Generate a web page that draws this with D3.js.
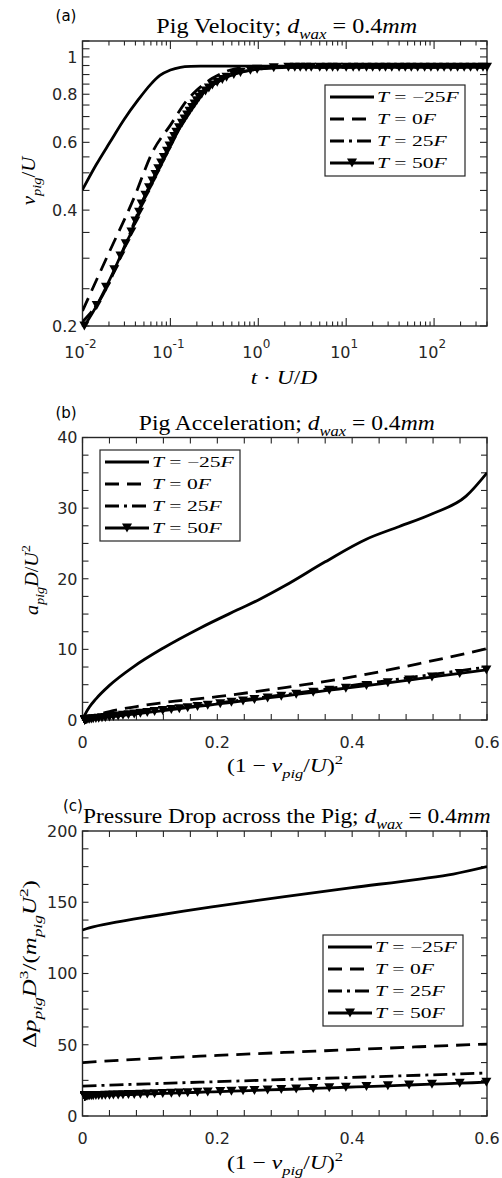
<!DOCTYPE html>
<html><head><meta charset="utf-8">
<script src="https://cdn.jsdelivr.net/npm/d3@7"></script>
<style>body{margin:0;background:#fff}svg{display:block}</style>
</head><body>
<svg id="chart" width="502" height="1178"></svg>
<script>
// ---------------- DATA ----------------
const seriesLabels = ["\u221225", "0", "25", "50"];   // T = ...F

// Panel (a): pig velocity vs t*U/D (log-log)
const tA_m25 = [0.01, 0.0142, 0.0205, 0.03, 0.0427, 0.06, 0.076, 0.1, 0.13, 0.17, 0.22, 0.4, 1, 10, 100, 400];
const vA_m25 = [0.452, 0.523, 0.60, 0.69, 0.772, 0.85, 0.895, 0.925, 0.94, 0.945, 0.946, 0.946, 0.946, 0.946, 0.946, 0.946];
const tA_0 = [0.01, 0.02, 0.0375, 0.064, 0.1, 0.155, 0.2, 0.3, 0.48, 0.7, 1, 400];
const vA_0 = [0.219, 0.31, 0.424, 0.572, 0.665, 0.772, 0.82, 0.88, 0.925, 0.94, 0.945, 0.945];
const tA_25 = [0.01, 0.0155, 0.03, 0.0487, 0.08, 0.12, 0.17, 0.22, 0.3, 0.45, 0.7, 1.0, 1.5, 2.5, 400];
const vA_25 = [0.205, 0.232, 0.32, 0.424, 0.535, 0.645, 0.73, 0.795, 0.845, 0.89, 0.918, 0.93, 0.937, 0.94, 0.94];
// T = 50F sampled points (markers)
const t50 = [0.0105,0.0145,0.0185,0.023,0.027,0.031,0.036,0.040,0.044,0.047,0.052,0.0571,0.0624,0.0677,0.0728,0.0784,0.0842,0.0915,0.0978,0.1044,0.1106,0.1167,0.1253,0.1352,0.1447,0.155,0.165,0.1765,0.1882,0.1998,0.2124,0.227,0.251,0.274,0.3,0.341,0.39,0.435,0.527,0.627,0.813,0.97,1.5,
  2.2,2.6,3,3.5,4,5,6,7,8,10,12,14,17,20,24,28,33,40,47,55,65,78,92,110,130,155,185,220,260,310,360,400];
const v50 = [0.2,0.226,0.252,0.28,0.304,0.327,0.351,0.375,0.395,0.415,0.437,0.457,0.476,0.495,0.512,0.53,0.548,0.569,0.587,0.605,0.621,0.637,0.655,0.673,0.69,0.707,0.723,0.739,0.755,0.77,0.786,0.8,0.816,0.83,0.845,0.859,0.874,0.886,0.9,0.911,0.923,0.929,0.937,
  0.94,0.94,0.94,0.94,0.94,0.94,0.94,0.94,0.94,0.94,0.94,0.94,0.94,0.94,0.94,0.94,0.94,0.94,0.94,0.94,0.94,0.94,0.94,0.94,0.94,0.94,0.94,0.94,0.94,0.94,0.94,0.94];

// Panel (b): acceleration vs (1 - v/U)^2
const xB_m25 = [0, 0.005, 0.01, 0.02, 0.04, 0.075, 0.12, 0.174, 0.23, 0.263, 0.3, 0.36, 0.421, 0.47, 0.519, 0.569, 0.6];
const aB_m25 = [0, 1.0, 1.8, 3.0, 4.9, 7.5, 10.2, 13.0, 15.6, 17.1, 19.0, 22.4, 25.6, 27.4, 29.2, 31.7, 35.0];
const xB_0 = [0, 0.02, 0.04, 0.08, 0.115, 0.2, 0.3, 0.4, 0.5, 0.6];
const aB_0 = [0, 0.7, 1.2, 1.9, 2.4, 3.3, 4.6, 6.1, 8.0, 10.1];
const xB_25 = [0, 0.05, 0.1, 0.2, 0.3, 0.4, 0.5, 0.6];
const aB_25 = [0, 0.6, 1.2, 2.4, 3.6, 4.9, 6.2, 7.5];
const a50 = [7.61,7.09,6.59,6.08,5.66,5.27,4.88,4.51,4.22,3.92,3.63,3.36,3.13,2.90,2.70,2.50,2.31,2.09,1.92,1.75,1.61,1.47,1.33,1.20,1.07,0.95,0.84,0.75,0.66,0.58,0.50,0.44,0.37,0.32,0.26,0.22,0.17,0.14,0.11,0.09,0.06,0.05,0.04,
  0.03,0.03,0.03,0.03,0.03,0.03,0.03,0.03,0.03,0.03,0.03,0.03,0.03,0.03,0.03,0.03,0.03,0.03,0.03,0.03,0.03,0.03,0.03,0.03,0.03,0.03,0.03,0.03,0.03,0.03,0.03,0.03];

// Panel (c): pressure drop vs (1 - v/U)^2
const xC_m25 = [0, 0.01, 0.05, 0.1, 0.15, 0.2, 0.3, 0.4, 0.5, 0.55, 0.6];
const dC_m25 = [130.5, 132, 136, 140, 143.8, 147.3, 154, 160.3, 166.3, 169.8, 175];
const xC_0 = [0, 0.1, 0.2, 0.3, 0.4, 0.5, 0.6];
const dC_0 = [37.5, 40.3, 42.5, 44.6, 46.6, 48.6, 50.5];
const xC_25 = [0, 0.1, 0.2, 0.3, 0.4, 0.5, 0.6];
const dC_25 = [21, 22.6, 24.1, 25.6, 27.1, 28.6, 30.2];
const dp50 = [24.42,23.71,23.02,22.32,21.74,21.2,20.67,20.17,19.76,19.36,18.96,18.59,18.27,17.96,17.68,17.41,17.14,16.86,16.62,16.39,16.19,16.01,15.82,15.62,15.46,15.3,15.16,15.03,14.91,14.8,14.69,14.6,14.51,14.44,14.36,14.3,14.24,14.2,14.15,14.12,14.09,14.08,14.06,
  14.05,14.05,14.05,14.05,14.05,14.05,14.05,14.05,14.05,14.05,14.05,14.05,14.05,14.05,14.05,14.05,14.05,14.05,14.05,14.05,14.05,14.05,14.05,14.05,14.05,14.05,14.05,14.05,14.05,14.05,14.05,14.05];

// tick labels
const yTicksA = [0.2, 0.4, 0.6, 0.8, 1];
const xTicksA = [0.01, 0.1, 1, 10, 100];
const xTickExpA = ["-2", "-1", "0", "1", "2"];
const xTicksBC = [0, 0.2, 0.4, 0.6];
const yTicksB = [0, 10, 20, 30, 40];
const yTicksC = [0, 50, 100, 150, 200];

// ---------------- DRAWING ----------------
const svg = d3.select("#chart");
const SERIF = "'Liberation Serif', 'DejaVu Serif', serif";
const SANS = "'DejaVu Sans', sans-serif";
const AX = "#262626";
const LW = 2.8;
const styles = [null, "14,8", "14,5,3,5", null];

const PA = {l:82.5, r:487, t:41, b:326};
const PB = {l:82.5, r:487, t:437.5, b:720};
const PC = {l:82.5, r:487, t:831, b:1116};

function rich(g, parts, fs, family, anchor){
  const t = g.append("text").attr("font-family", family).attr("font-size", fs)
    .attr("text-anchor", anchor || "middle").attr("fill", "#000");
  let shift = 0;
  parts.forEach(([s, f]) => {
    const ts = t.append("tspan").text(s);
    const sub = f && f.includes("s"), sup = f && f.includes("p");
    const target = sub ? fs*0.3 : sup ? -fs*0.42 : 0;
    ts.attr("dy", target - shift); shift = target;
    if (sub || sup) ts.attr("font-size", fs*0.7);
    if (f && f.includes("i")) ts.attr("font-style", "italic");
  });
  return t;
}
function placeText(parts, fs, family, x, y, rot, targetW, anchor){
  const g = svg.append("g");
  const t = rich(g, parts, fs, family, anchor);
  let s = 1;
  if (targetW) { const w = t.node().getBBox().width; s = targetW / w; }
  g.attr("transform", `translate(${x},${y}) rotate(${rot||0}) scale(${s},1)`);
  return s;
}
function tri(sel, x, y){
  sel.append("path").attr("d", `M${x-5},${y-4.5}L${x+5},${y-4.5}L${x},${y+4.5}Z`).attr("fill", "#000");
}

function frameAndTicks(P, xsc, ysc, xt, yt){
  const g = svg.append("g").attr("stroke", AX).attr("stroke-width", 1.1);
  xt.forEach(d => {
    const x = xsc(d.v);
    g.append("line").attr("x1", x).attr("x2", x).attr("y1", P.b).attr("y2", P.b - d.len);
    g.append("line").attr("x1", x).attr("x2", x).attr("y1", P.t).attr("y2", P.t + d.len);
  });
  yt.forEach(d => {
    const y = ysc(d.v);
    g.append("line").attr("y1", y).attr("y2", y).attr("x1", P.l).attr("x2", P.l + d.len);
    g.append("line").attr("y1", y).attr("y2", y).attr("x1", P.r).attr("x2", P.r - d.len);
  });
  svg.append("rect").attr("x", P.l).attr("y", P.t).attr("width", P.r - P.l).attr("height", P.b - P.t)
    .attr("fill", "none").attr("stroke", AX).attr("stroke-width", 1.4);
}

function drawLines(P, id, xsc, ysc, series){
  svg.append("clipPath").attr("id", id).append("rect")
    .attr("x", P.l).attr("y", P.t).attr("width", P.r - P.l).attr("height", P.b - P.t);
  const g = svg.append("g").attr("clip-path", `url(#${id})`);
  const line = d3.line().x(d => xsc(d[0])).y(d => ysc(d[1])).curve(d3.curveMonotoneX);
  series.forEach((s, i) => {
    g.append("path").attr("d", line(s)).attr("fill", "none").attr("stroke", "#000")
      .attr("stroke-width", LW).attr("stroke-dasharray", styles[i]).attr("stroke-linejoin", "round");
  });
  const mg = svg.append("g");
  const xd = xsc.domain(), yd = ysc.domain();
  series[3].forEach(d => {
    if (d[0] < Math.min(...xd) || d[0] > Math.max(...xd) || d[1] < Math.min(...yd) || d[1] > Math.max(...yd)) return;
    tri(mg, xsc(d[0]), ysc(d[1]));
  });
}

function legend(x, y){
  const w = 140, h = 91;
  svg.append("rect").attr("x", x).attr("y", y).attr("width", w).attr("height", h)
    .attr("fill", "#fff").attr("stroke", AX).attr("stroke-width", 1.2);
  let sc = null;
  seriesLabels.forEach((lab, i) => {
    const cy = y + 12 + i * 22;
    svg.append("line").attr("x1", x + 5).attr("x2", x + 49).attr("y1", cy).attr("y2", cy)
      .attr("stroke", "#000").attr("stroke-width", LW).attr("stroke-dasharray", styles[i]);
    if (i === 3) tri(svg, x + 27, cy);
    const parts = [["T", "i"], [" = " + lab, ""], ["F", "i"]];
    if (sc === null) sc = placeText(parts, 15, SERIF, x + 52, cy + 5, 0, 83, "start");
    else {
      const g = svg.append("g");
      rich(g, parts, 15, SERIF, "start");
      g.attr("transform", `translate(${x + 52},${cy + 5}) scale(${sc},1)`);
    }
  });
}

function title(P, parts, w, label, lx){
  const cx = (P.l + P.r) / 2;
  placeText(parts, 20, SERIF, cx + 2, P.t - 8, 0, w);
  svg.append("text").attr("x", lx).attr("y", P.t - 20).attr("font-family", SANS)
    .attr("font-size", 15).attr("text-anchor", "middle").text(label);
}

// ---------- Panel (a) ----------
{
  const P = PA;
  const x = d3.scaleLog().domain([0.01, 400]).range([P.l, P.r]);
  const y = d3.scaleLog().domain([0.2, 1.1]).range([P.b, P.t]);
  const xt = [];
  for (let k = -2; k <= 2; k++) for (let m = 1; m <= 9; m++) {
    const v = m * Math.pow(10, k);
    if (v <= 400) xt.push({v, len: m === 1 ? 8 : 4.5});
  }
  const yt = d3.range(0.2, 1.1001, 0.05).map(v => ({v, len: 7}));
  frameAndTicks(P, x, y, xt, yt);
  drawLines(P, "clipA", x, y, [
    d3.zip(tA_m25, vA_m25), d3.zip(tA_0, vA_0), d3.zip(tA_25, vA_25), d3.zip(t50, v50)
  ]);
  yTicksA.forEach(v => svg.append("text").attr("x", P.l - 5).attr("y", y(v)).attr("dy", "0.36em")
    .attr("text-anchor", "end").attr("font-family", SANS).attr("font-size", 16).attr("fill", "#262626").text(v));
  xTicksA.forEach((v, i) => {
    const t = svg.append("text").attr("x", x(v) - 2).attr("y", P.b + 32).attr("text-anchor", "middle")
      .attr("font-family", SANS).attr("font-size", 16).attr("fill", "#262626");
    t.append("tspan").text("10");
    t.append("tspan").attr("dy", -10).attr("font-size", 12).text(xTickExpA[i]);
  });
  legend(325, 85);
  title(P, [["Pig Velocity; ", ""], ["d", "i"], ["wax", "is"], [" = 0.4", ""], ["mm", "i"]], 261, "(a)", 66);
  placeText([["t", "i"], [" \u00B7 ", ""], ["U", "i"], ["/", ""], ["D", "i"]], 19, SERIF, 284, 384, 0, 67);
  placeText([["v", "i"], ["pig", "is"], ["/", ""], ["U", "i"]], 19, SERIF, 35, 181, -90, 50);
}

// ---------- Panel (b) ----------
{
  const P = PB;
  const x = d3.scaleLinear().domain([0, 0.6]).range([P.l, P.r]);
  const y = d3.scaleLinear().domain([0, 40]).range([P.b, P.t]);
  const xt = d3.range(0, 0.6001, 0.04).map(v => ({v, len: 6}));
  const yt = d3.range(0, 40.001, 2.5).map(v => ({v, len: 6}));
  frameAndTicks(P, x, y, xt, yt);
  drawLines(P, "clipB", x, y, [
    d3.zip(xB_m25, aB_m25), d3.zip(xB_0, aB_0), d3.zip(xB_25, aB_25),
    v50.map((v, i) => [(1 - v) * (1 - v), a50[i]]).sort((p, q) => p[0] - q[0])
  ]);
  yTicksB.forEach(v => svg.append("text").attr("x", P.l - 5).attr("y", y(v)).attr("dy", "0.36em")
    .attr("text-anchor", "end").attr("font-family", SANS).attr("font-size", 16).attr("fill", "#262626").text(v));
  xTicksBC.forEach(v => svg.append("text").attr("x", x(v)).attr("y", P.b + 28).attr("text-anchor", "middle")
    .attr("font-family", SANS).attr("font-size", 16).attr("fill", "#262626").text(v));
  legend(100, 450);
  title(P, [["Pig Acceleration; ", ""], ["d", "i"], ["wax", "is"], [" = 0.4", ""], ["mm", "i"]], 296, "(b)", 66);
  placeText([["(1 \u2212 ", ""], ["v", "i"], ["pig", "is"], ["/", ""], ["U", "i"], [")", ""], ["2", "p"]], 19, SERIF, 285, 772, 0, 116);
  placeText([["a", "i"], ["pig", "is"], ["D", "i"], ["/", ""], ["U", "i"], ["2", "p"]], 19, SERIF, 38, 580, -90, 70);
}

// ---------- Panel (c) ----------
{
  const P = PC;
  const x = d3.scaleLinear().domain([0, 0.6]).range([P.l, P.r]);
  const y = d3.scaleLinear().domain([0, 200]).range([P.b, P.t]);
  const xt = d3.range(0, 0.6001, 0.04).map(v => ({v, len: 6}));
  const yt = d3.range(0, 200.001, 12.5).map(v => ({v, len: 6}));
  frameAndTicks(P, x, y, xt, yt);
  drawLines(P, "clipC", x, y, [
    d3.zip(xC_m25, dC_m25), d3.zip(xC_0, dC_0), d3.zip(xC_25, dC_25),
    v50.map((v, i) => [(1 - v) * (1 - v), dp50[i]]).sort((p, q) => p[0] - q[0])
  ]);
  yTicksC.forEach(v => svg.append("text").attr("x", P.l - 5).attr("y", y(v)).attr("dy", "0.36em")
    .attr("text-anchor", "end").attr("font-family", SANS).attr("font-size", 16).attr("fill", "#262626").text(v));
  xTicksBC.forEach(v => svg.append("text").attr("x", x(v)).attr("y", P.b + 28).attr("text-anchor", "middle")
    .attr("font-family", SANS).attr("font-size", 16).attr("fill", "#262626").text(v));
  legend(323, 935);
  title(P, [["Pressure Drop across the Pig; ", ""], ["d", "i"], ["wax", "is"], [" = 0.4", ""], ["mm", "i"]], 408, "(c)", 73);
  placeText([["(1 \u2212 ", ""], ["v", "i"], ["pig", "is"], ["/", ""], ["U", "i"], [")", ""], ["2", "p"]], 19, SERIF, 285, 1169, 0, 116);
  placeText([["\u0394", ""], ["p", "i"], ["pig", "is"], ["D", "i"], ["3", "p"], ["/(", ""], ["m", "i"], ["pig", "is"], ["U", "i"], ["2", "p"], [")", ""]], 19, SERIF, 36, 964, -90, 168);
}
</script>
</body></html>
